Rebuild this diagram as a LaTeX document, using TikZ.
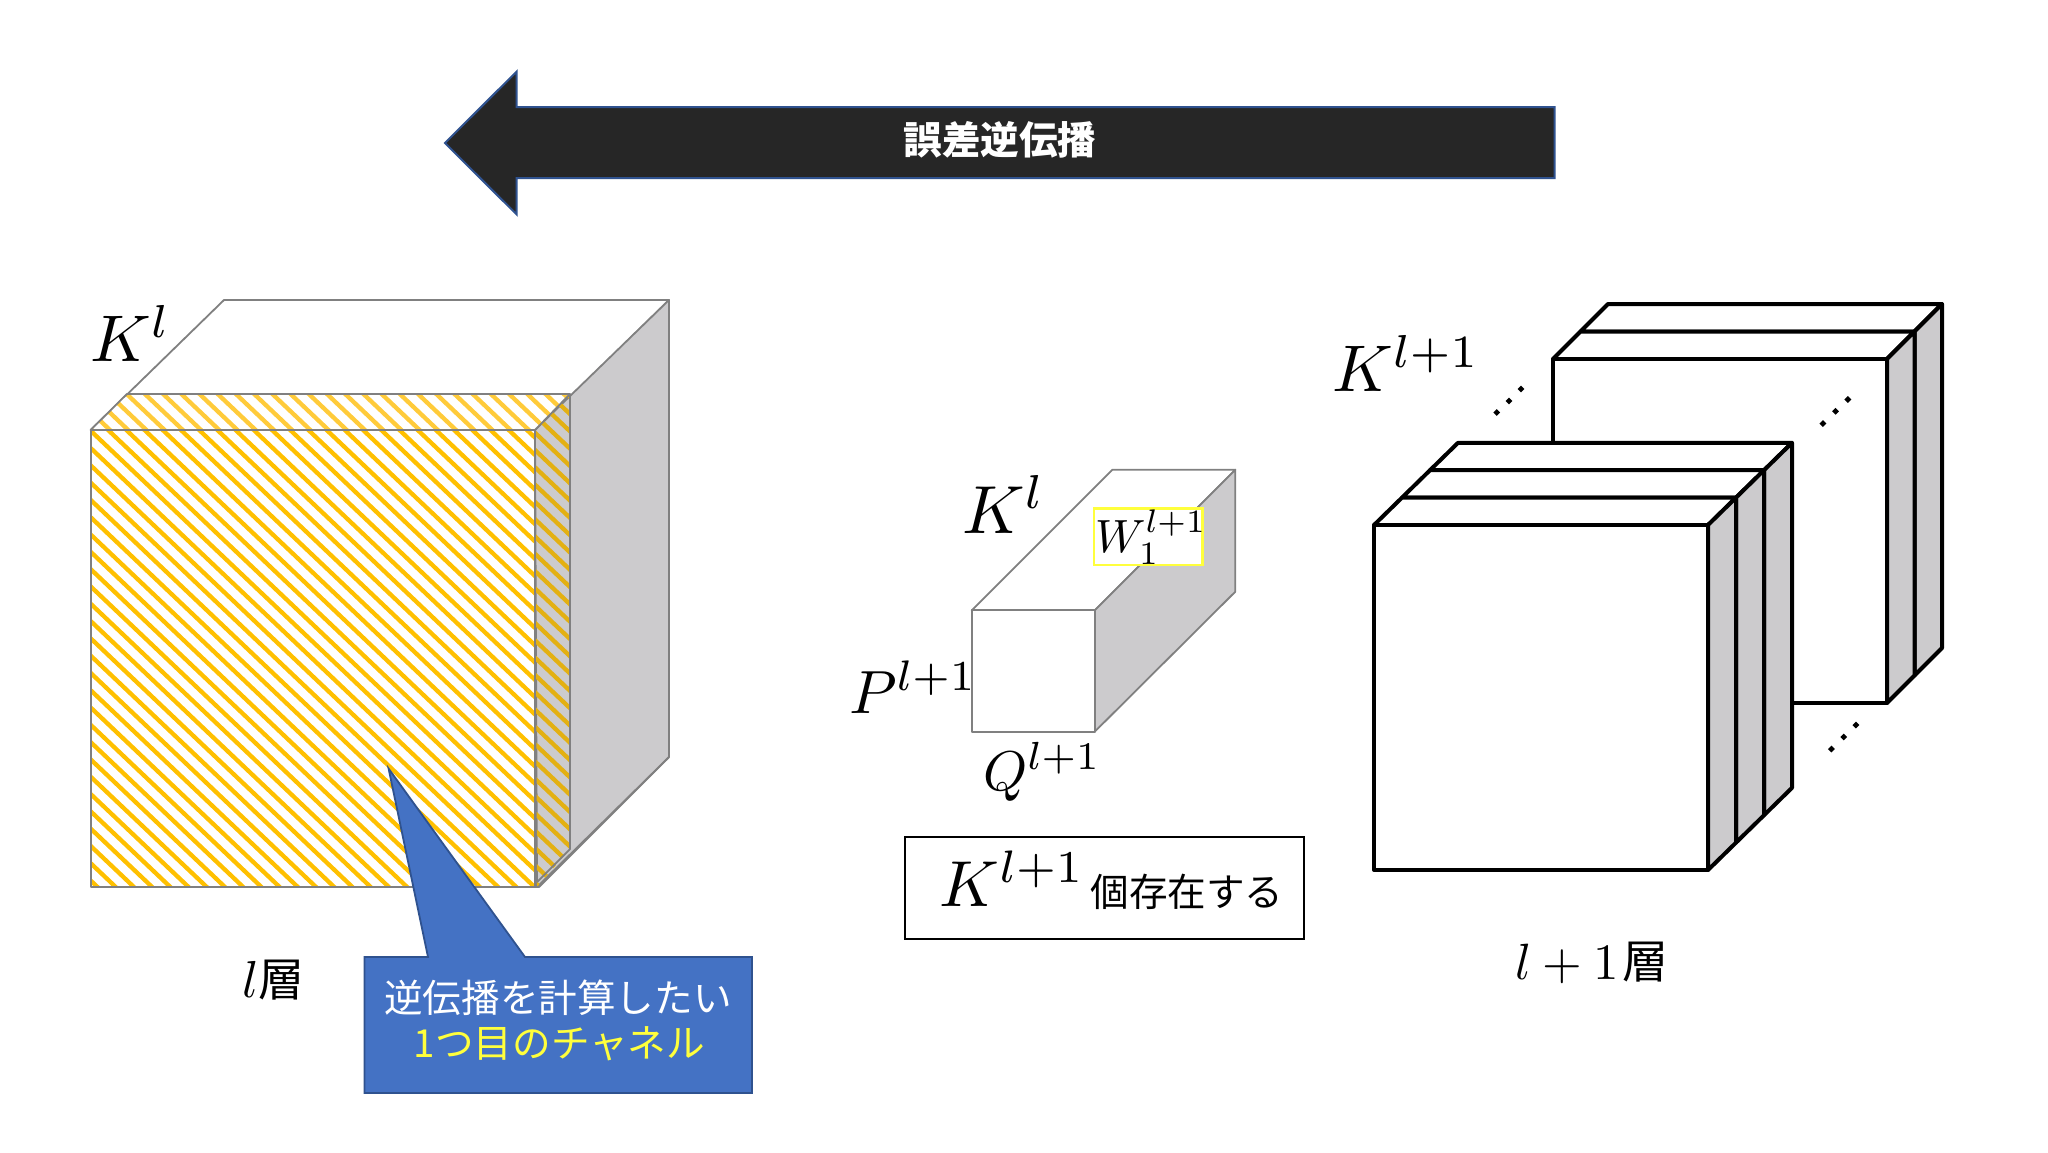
\documentclass[tikz,border=0pt]{standalone}
\usepackage{fontspec}
\usepackage{graphicx}
\newfontfamily\cjk{Noto Sans CJK JP}
\definecolor{edgegray}{HTML}{808080}
\definecolor{sidegray}{HTML}{CCCBCD}
\definecolor{arrowfill}{HTML}{262626}
\definecolor{bluefill}{HTML}{4472C4}
\definecolor{blueedge}{HTML}{2F528F}
\definecolor{stripea}{HTML}{FFC000}
\definecolor{stripeb}{HTML}{FFCB3A}
\definecolor{stripec}{HTML}{E3B012}
\definecolor{markyellow}{HTML}{FFFF3C}
\newcommand{\mathlabel}[2]{\scalebox{#1}{$#2$}}
\usetikzlibrary{shapes.geometric}
\tikzset{
  x=0.5pt,y=-0.5pt,
  thin edge/.style={draw=edgegray,line width=0.9pt,line join=round},
  heavy edge/.style={draw=black,line width=2pt,line join=round},
  math text/.style={inner sep=0pt,outer sep=0pt,anchor=base west},
  cjk text/.style={inner sep=0pt,outer sep=0pt,anchor=base,font=\cjk},
  dotmark/.style={fill=black,diamond,inner sep=0pt,minimum size=3.6pt},
  stripe line/.style={line width=2.15pt},
}
\begin{document}
\begin{tikzpicture}
\useasboundingbox (0,0) rectangle (2048,1152);
\fill[white] (0,0) rectangle (2048,1152);

% top arrow
\draw[fill=arrowfill,draw=blueedge,line width=1pt,line join=miter]
  (445,143) -- (516.7,71.5) -- (516.7,107) -- (1554.5,107) -- (1554.5,178) -- (516.7,178) -- (516.7,214.5) -- cycle;
\node[cjk text,text=white,font=\cjk\bfseries\fontsize{19.3}{19.3}\selectfont] (backprop) at (1000,154) {誤差逆伝播};

% left block
\filldraw[thin edge,fill=white] (90.6,430) -- (224,300) -- (669,300) -- (537,430) -- cycle;
\filldraw[thin edge,fill=sidegray] (535,430) -- (669,300) -- (669,757) -- (537,887) -- cycle;
% slice: top
\begin{scope}
  \clip (90.6,430) -- (127,394) -- (570,394) -- (535,430) -- cycle;
  \fill[white] (90.6,430) -- (127,394) -- (570,394) -- (535,430) -- cycle;
  \foreach \k in {-40,...,10}
    \draw[stripeb,stripe line] (60,{394+\k*17.3+0.95*(60-126.7)}) -- (600,{394+\k*17.3+0.95*(600-126.7)});
\end{scope}
\draw[thin edge] (90.6,430) -- (127,394) -- (570,394);
% slice: side
\begin{scope}
  \clip (535,430) -- (570,394) -- (570,849) -- (537,887) -- cycle;
  \foreach \k in {-10,...,30}
    \draw[stripec,stripe line] (520,{450+\k*17.3+0.95*(520-535)}) -- (590,{450+\k*17.3+0.95*(590-535)});
\end{scope}
\draw[thin edge] (535,430) -- (570,394) -- (570,849) -- (537,882);
% slice: front
\begin{scope}
  \clip (90.6,430) rectangle (535,887);
  \fill[white] (90.6,430) rectangle (535,887);
  \foreach \k in {-30,...,30}
    \draw[stripea,stripe line] (80,{431.7+\k*17.3+0.95*(80-91.7)}) -- (545,{431.7+\k*17.3+0.95*(545-91.7)});
\end{scope}
\draw[thin edge] (90.6,430) rectangle (535,887);
\draw[thin edge] (535,887) -- (539,887) -- (669,757);
\node[math text] (klleft) at (90,361.5) {\mathlabel{3.3}{K^l}};

% callout
\draw[fill=bluefill,draw=blueedge,line width=0.9pt,line join=miter]
  (364.4,957) -- (428,957) -- (388.6,768.6) -- (525,957) -- (752,957) -- (752,1093) -- (364.4,1093) -- cycle;
\node[cjk text,text=white,font=\cjk\fontsize{19.3}{19.3}\selectfont] (calloutA) at (558,1012) {逆伝播を計算したい};
\node[cjk text,text=markyellow,font=\cjk\fontsize{19.3}{19.3}\selectfont] (calloutB) at (559.5,1057) {1つ目のチャネル};

% layer labels
\node[math text] (lleft) at (242,997) {\mathlabel{2.6}{l}};
\node[cjk text,font=\cjk\fontsize{23}{23}\selectfont] (sleft) at (281.5,996) {層};
\node[math text] (lright) at (1515,979) {\mathlabel{2.55}{l+1}};
\node[cjk text,font=\cjk\fontsize{23}{23}\selectfont] (sright) at (1645,978) {層};

% middle block
\filldraw[thin edge,fill=white] (971.7,610.3) -- (1112.3,469.7) -- (1235.3,469.7) -- (1094.7,610.3) -- cycle;
\filldraw[thin edge,fill=sidegray] (1094.7,610.3) -- (1235.3,469.7) -- (1235.3,591.7) -- (1094.7,731.7) -- cycle;
\filldraw[thin edge,fill=white] (971.7,610.3) rectangle (1094.7,731.7);
\filldraw[draw=markyellow,line width=1.2pt,fill=white] (1093.7,508.3) rectangle (1202.3,565);
\node[math text] (w) at (1095,552) {\mathlabel{2.33}{W_1^{l+1}}};
\node[math text] (klmid) at (962,533) {\mathlabel{3.4}{K^l}};
\node[math text] (p) at (849,713) {\mathlabel{3.05}{P^{l+1}}};
\node[math text] (q) at (983,790) {\mathlabel{2.8}{Q^{l+1}}};

% count box
\draw[draw=black,line width=1pt] (904.7,837) rectangle (1304,939);
\node[math text] (kbox) at (939.5,906) {\mathlabel{3.25}{K^{l+1}}};
\node[cjk text,font=\cjk\fontsize{19.3}{19.3}\selectfont] (count) at (1187,906) {個存在する};

% right stacks: back stack
\foreach \i in {2,1} {
  \pgfmathsetmacro{\xa}{1553+(\i-1)*27.5}
  \pgfmathsetmacro{\xb}{1887+(\i-1)*27.5}
  \pgfmathsetmacro{\ya}{359-(\i-1)*27.5}
  \pgfmathsetmacro{\yb}{703-(\i-1)*27.5}
  \filldraw[heavy edge,fill=white] (\xa,\ya) -- ({\xa+27.5},{\ya-27.5}) -- ({\xb+27.5},{\ya-27.5}) -- (\xb,\ya) -- cycle;
  \filldraw[heavy edge,fill=sidegray] (\xb,\ya) -- ({\xb+27.5},{\ya-27.5}) -- ({\xb+27.5},{\yb-27.5}) -- (\xb,\yb) -- cycle;
}
\filldraw[heavy edge,fill=white] (1553,359) rectangle (1887,703);
\node[dotmark] (d1) at (1496.7,412.5) {};
\node[dotmark] (d2) at (1509,401) {};
\node[dotmark] (d3) at (1521,389) {};
\node[dotmark] (d4) at (1822.9,423.6) {};
\node[dotmark] (d5) at (1835.5,411.3) {};
\node[dotmark] (d6) at (1847.8,399.5) {};
\node[dotmark] (d7) at (1831.4,749) {};
\node[dotmark] (d8) at (1843.7,737) {};
\node[dotmark] (d9) at (1855.9,725) {};
% front stack
\foreach \i in {3,2,1} {
  \pgfmathsetmacro{\xa}{1374+(\i-1)*28}
  \pgfmathsetmacro{\xb}{1708+(\i-1)*28}
  \pgfmathsetmacro{\ya}{525-(\i-1)*27.4}
  \pgfmathsetmacro{\yb}{870-(\i-1)*27.4}
  \filldraw[heavy edge,fill=white] (\xa,\ya) -- ({\xa+28},{\ya-27.4}) -- ({\xb+28},{\ya-27.4}) -- (\xb,\ya) -- cycle;
  \filldraw[heavy edge,fill=sidegray] (\xb,\ya) -- ({\xb+28},{\ya-27.4}) -- ({\xb+28},{\yb-27.4}) -- (\xb,\yb) -- cycle;
}
\filldraw[heavy edge,fill=white] (1374,525) rectangle (1708,870);
\node[math text] (kright) at (1332,391) {\mathlabel{3.3}{K^{l+1}}};
\end{tikzpicture}
\end{document}
